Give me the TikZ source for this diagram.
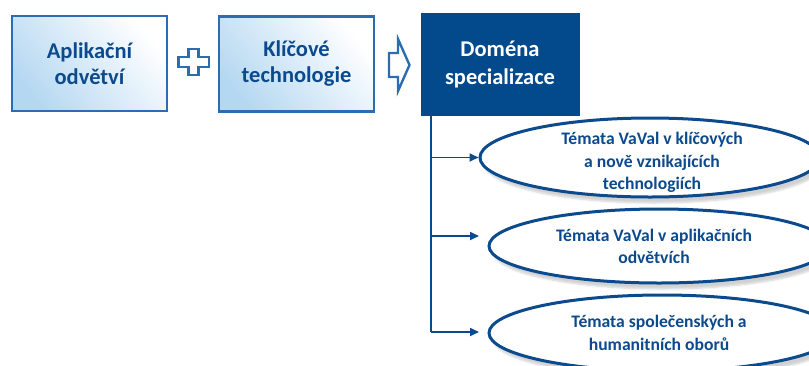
\documentclass[tikz,border=0pt]{standalone}
\usepackage{fontspec}
\setmainfont{Carlito}
\usetikzlibrary{arrows.meta,shapes.geometric,shadows.blur}
\definecolor{navy}{HTML}{0B4A8C}
\definecolor{bord}{HTML}{2C6CB0}
\definecolor{lblue}{HTML}{B5D8F2}
\definecolor{dom}{HTML}{034A8C}
\tikzset{
  inbox/.style={draw=bord, line width=2.8pt, minimum width=155pt, minimum height=95pt,
    shading=axis, top color=white, bottom color=lblue, shading angle=-50,
    text=navy, font=\fontsize{22.5}{26}\selectfont\bfseries, align=center},
  dombox/.style={fill=dom, draw=dom, minimum width=158pt, minimum height=102pt,
    text=white, font=\fontsize{22.5}{28}\selectfont\bfseries, align=center},
  topic/.style={ellipse, draw=navy, line width=3pt, fill=white, inner sep=0pt,
    blur shadow={shadow xshift=4pt, shadow yshift=-6pt, shadow opacity=18, shadow blur steps=6}},
  topictext/.style={text=navy, font=\fontsize{17.6}{22.5}\selectfont\bfseries, align=center},
  link/.style={draw=navy, line width=1.7pt},
  tip/.style={-{Triangle[length=9pt,width=8pt]}}
}
\begin{document}
\begin{tikzpicture}[x=1pt,y=-1pt]
\useasboundingbox (0,0) rectangle (809,365);
\node[inbox] (app) at (89.5,63.5) {Aplikační\\odvětví};
\node[inbox] (key) at (296.5,64) {Klíčové\\technologie};
\node[dombox] (dm) at (500,64) {Doména\\specializace};
% plus sign
\draw[draw=bord, line width=2.4pt, fill=white]
  (188.5,49) -- (198.5,49) -- (198.5,57) -- (209,57) -- (209,67) -- (198.5,67)
  -- (198.5,75) -- (188.5,75) -- (188.5,67) -- (178.5,67) -- (178.5,57) -- (188.5,57) -- cycle;
% block arrow
\draw[draw=bord, line width=2.4pt, fill=white, line join=miter]
  (389,53) -- (398,53) -- (398,39) -- (409.5,65) -- (398,91) -- (398,77) -- (389,77) -- cycle;
% ellipses
\node[topic, minimum width=340pt, minimum height=79pt] (e1) at (650,157.5) {};
\node[topictext] (t1) at (652,162.5) {Témata VaVal v klíčových\\a nově vznikajících\\technologiích};
\node[topic, minimum width=340pt, minimum height=74pt] (e2) at (659,246) {};
\node[topictext] (t2) at (654,246.5) {Témata VaVal v aplikačních\\odvětvích};
\node[topic, minimum width=346pt, minimum height=76pt] (e3) at (662,333) {};
\node[topictext] (t3) at (659,333) {Témata společenských a\\humanitních oborů};
% connectors
\coordinate (trunk) at (431,115);
\coordinate (bot) at (431,332);
\coordinate (a2) at (479,236);
\coordinate (a3) at (479,332);
\draw[link] (trunk) -- (bot);
\draw[link,tip] (trunk |- e1.west) -- (e1.west);
\draw[link,tip] (trunk |- a2) -- (a2);
\draw[link,tip] (bot) -- (a3);
\end{tikzpicture}
\end{document}
